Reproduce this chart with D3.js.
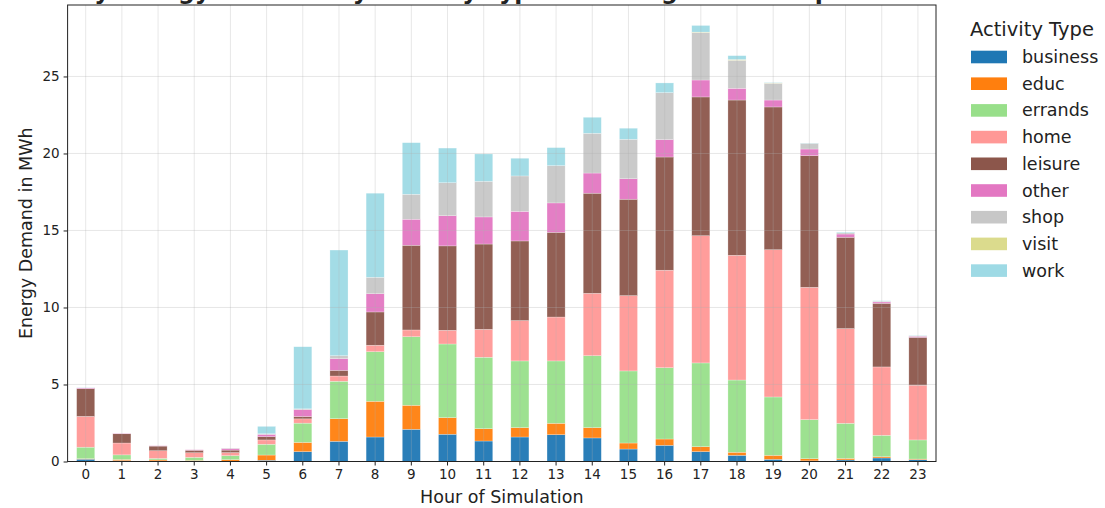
<!DOCTYPE html>
<html>
<head>
<meta charset="utf-8">
<script src="https://cdn.jsdelivr.net/npm/d3@7"></script>
<style>
  body { margin: 0; background: #fff; }
  text { font-family: "DejaVu Sans", sans-serif; fill: #222; }
  .axis-label { font-size: 17.5px; }
  .tick text { font-size: 13.5px; fill: #222; }
</style>
</head>
<body>
<div id="chart"></div>
<script>
// hours of the simulation (x categories)
const hours = d3.range(0, 24);
const activities = ["business", "educ", "errands", "home", "leisure", "other", "shop", "visit", "work"];
// energy demand (MWh) per activity, one value per hour
const business = [0.15, 0.05, 0.03, 0.02, 0.02, 0.08, 0.64, 1.31, 1.59, 2.09, 1.77, 1.33, 1.59, 1.74, 1.53, 0.81, 1.05, 0.64, 0.40, 0.14, 0.04, 0.10, 0.23, 0.12];
const educ     = [0.03, 0.08, 0.07, 0.05, 0.10, 0.34, 0.60, 1.47, 2.32, 1.56, 1.08, 0.80, 0.61, 0.74, 0.67, 0.39, 0.41, 0.32, 0.20, 0.26, 0.14, 0.10, 0.08, 0.04];
const errands  = [0.75, 0.30, 0.10, 0.20, 0.26, 0.70, 1.25, 2.43, 3.22, 4.45, 4.78, 4.64, 4.33, 4.05, 4.67, 4.68, 4.63, 5.44, 4.69, 3.79, 2.54, 2.28, 1.39, 1.24];
const home     = [2.00, 0.77, 0.50, 0.30, 0.20, 0.28, 0.28, 0.34, 0.42, 0.44, 0.89, 1.81, 2.62, 2.85, 4.05, 4.89, 6.33, 8.26, 8.10, 9.56, 8.59, 6.15, 4.44, 3.55];
const leisure  = [1.80, 0.60, 0.30, 0.16, 0.16, 0.21, 0.15, 0.37, 2.16, 5.50, 5.48, 5.54, 5.17, 5.50, 6.50, 6.26, 7.35, 9.01, 10.08, 9.27, 8.55, 5.93, 4.13, 3.11];
const other    = [0.05, 0.03, 0.02, 0.03, 0.10, 0.15, 0.45, 0.76, 1.19, 1.69, 1.96, 1.76, 1.92, 1.91, 1.31, 1.33, 1.13, 1.10, 0.76, 0.45, 0.43, 0.21, 0.09, 0.07];
const shop     = [0.00, 0.00, 0.00, 0.00, 0.03, 0.04, 0.05, 0.19, 1.06, 1.62, 2.14, 2.31, 2.30, 2.42, 2.58, 2.56, 3.05, 3.08, 1.82, 1.09, 0.37, 0.08, 0.05, 0.03];
const visit    = [0.00, 0.00, 0.00, 0.00, 0.00, 0.00, 0.00, 0.00, 0.00, 0.00, 0.00, 0.00, 0.00, 0.00, 0.00, 0.00, 0.00, 0.03, 0.05, 0.02, 0.00, 0.00, 0.00, 0.00];
const work     = [0.02, 0.00, 0.00, 0.00, 0.00, 0.48, 4.03, 6.86, 5.46, 3.35, 2.25, 1.78, 1.15, 1.17, 1.04, 0.72, 0.63, 0.43, 0.25, 0.03, 0.02, 0.05, 0.03, 0.03];
const yTicks = [0, 5, 10, 15, 20, 25];
const colors = ["#1f77b4", "#ff7f0e", "#98df8a", "#ff9896", "#8c564b", "#e377c2", "#c7c7c7", "#dbdb8d", "#9edae5"];

const series = { business, educ, errands, home, leisure, other, shop, visit, work };
// build one row per hour for the stack generator
const data = hours.map((h, i) => {
  const row = { hour: h };
  activities.forEach(a => row[a] = series[a][i]);
  return row;
});

const width = 1105, height = 508;
const margin = { top: 5, right: 169, bottom: 46.5, left: 67.6 };
const innerWidth = width - margin.left - margin.right;
const innerHeight = height - margin.top - margin.bottom;

const svg = d3.select("#chart")
  .append("svg")
  .attr("width", width)
  .attr("height", height);

//title sits mostly above the visible area (only descenders show)
svg.append("text")
  .text("Hourly Energy Demand by Activity Type Including Home Stops at Each Hour")
  .attr("x", 22)
  .attr("y", -1)
  .style("font-size", "23.5px")
  .style("font-weight", "bold");

const innerChart = svg.append("g")
  .attr("transform", `translate(${margin.left}, ${margin.top})`);

const xScale = d3.scaleBand()
  .domain(hours)
  .range([0, innerWidth])
  .paddingInner(0.5)
  .paddingOuter(0.25);

const yScale = d3.scaleLinear()
  .domain([0, 29.64])
  .range([innerHeight, 0]);

const color = d3.scaleOrdinal().domain(activities).range(colors);

const stacked = d3.stack().keys(activities)(data);

//stacked bars
innerChart.selectAll("g.layer")
  .data(stacked)
  .join("g")
    .attr("class", "layer")
    .attr("fill", d => color(d.key))
  .selectAll("rect")
  .data(d => d)
  .join("rect")
    .attr("x", d => xScale(d.data.hour))
    .attr("y", d => yScale(d[1]))
    .attr("width", xScale.bandwidth())
    .attr("height", d => yScale(d[0]) - yScale(d[1]))
    .attr("fill-opacity", 0.95)
    .attr("stroke", "#fff")
    .attr("stroke-opacity", 0.5)
    .attr("stroke-width", 0.5);

//grid lines drawn over the bars, like matplotlib default
innerChart.append("g")
  .selectAll("line")
  .data(yTicks)
  .join("line")
    .attr("x1", 0)
    .attr("x2", innerWidth)
    .attr("y1", d => yScale(d))
    .attr("y2", d => yScale(d))
    .attr("stroke", "#b0b0b0")
    .attr("stroke-opacity", 0.3)
    .attr("stroke-width", 1);
innerChart.append("g")
  .selectAll("line")
  .data(hours)
  .join("line")
    .attr("x1", d => xScale(d) + xScale.bandwidth() / 2)
    .attr("x2", d => xScale(d) + xScale.bandwidth() / 2)
    .attr("y1", 0)
    .attr("y2", innerHeight)
    .attr("stroke", "#b0b0b0")
    .attr("stroke-opacity", 0.3)
    .attr("stroke-width", 1);

//axes
const bottomAxis = d3.axisBottom(xScale).tickSizeOuter(0).tickSize(4).tickPadding(4);
innerChart.append("g")
  .attr("transform", `translate(0, ${innerHeight})`)
  .call(bottomAxis)
  .call(g => g.select(".domain").remove());
const leftAxis = d3.axisLeft(yScale).tickValues(yTicks).tickSizeOuter(0).tickSize(4).tickPadding(4);
innerChart.append("g")
  .call(leftAxis)
  .call(g => g.select(".domain").remove());
innerChart.selectAll(".tick line").attr("stroke", "#222");

//frame
innerChart.append("rect")
  .attr("width", innerWidth)
  .attr("height", innerHeight)
  .attr("fill", "none")
  .attr("stroke", "#222")
  .attr("stroke-width", 1);

//axis labels
svg.append("text")
  .text("Hour of Simulation")
  .attr("class", "axis-label")
  .attr("text-anchor", "middle")
  .attr("x", margin.left + innerWidth / 2)
  .attr("y", 503);
svg.append("text")
  .text("Energy Demand in MWh")
  .attr("class", "axis-label")
  .attr("text-anchor", "middle")
  .attr("transform", `translate(32, ${margin.top + innerHeight / 2}) rotate(-90)`);

//legend
const legend = svg.append("g").attr("transform", "translate(970, 0)");
legend.append("text")
  .text("Activity Type")
  .attr("x", 0)
  .attr("y", 36)
  .style("font-size", "19.5px");
const items = legend.selectAll("g.item")
  .data(activities)
  .join("g")
    .attr("class", "item")
    .attr("transform", (d, i) => `translate(0, ${57 + i * 26.7})`);
items.append("rect")
  .attr("x", 1)
  .attr("y", -6.3)
  .attr("width", 36)
  .attr("height", 12.6)
  .attr("fill", d => color(d));
items.append("text")
  .text(d => d)
  .attr("x", 52)
  .attr("y", 6)
  .style("font-size", "17.5px");
</script>
</body>
</html>
